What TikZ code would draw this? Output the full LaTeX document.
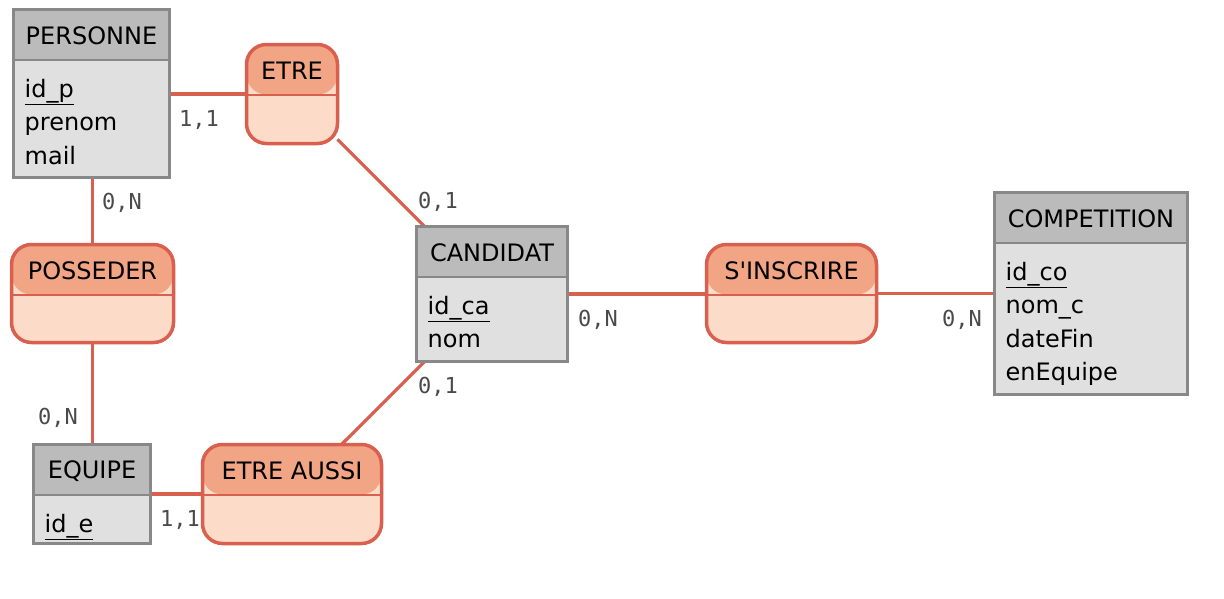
\documentclass[tikz,border=0pt]{standalone}
\usepackage{fontspec}
\setmainfont{DejaVu Sans}
\newfontfamily\cardfont{DejaVu Sans Mono}
\usetikzlibrary{backgrounds}

\definecolor{enthead}{HTML}{BBBBBB}
\definecolor{entbody}{HTML}{E0E0E0}
\definecolor{entline}{HTML}{888888}
\definecolor{relhead}{HTML}{F2A584}
\definecolor{relbody}{HTML}{FCDCC8}
\definecolor{relline}{HTML}{D9604F}
\definecolor{cardtext}{HTML}{4A4A4A}

\tikzset{
  box/.style={line width=3.5pt, inner sep=0pt, outer sep=0pt},
  entity/.style={box, draw=entline, fill=entbody,
    path picture={
      \fill[enthead] (path picture bounding box.north west) rectangle
        ([yshift=-50pt]path picture bounding box.north east);
      \draw[entline, line width=2pt] ([yshift=-50pt]path picture bounding box.north west)
        -- ([yshift=-50pt]path picture bounding box.north east);
    }},
  relation/.style={box, draw=relline, fill=relbody, rounded corners=20pt,
    path picture={
      \fill[relhead] (path picture bounding box.north west) rectangle
        ([yshift=-50pt]path picture bounding box.north east);
      \draw[relline, line width=2pt] ([yshift=-50pt]path picture bounding box.north west)
        -- ([yshift=-50pt]path picture bounding box.north east);
    }},
  title/.style={inner sep=0pt, font=\fontsize{24}{30}\selectfont},
  attrs/.style={inner sep=0pt, anchor=north west, align=left,
    font=\fontsize{24}{33.5}\selectfont},
  card/.style={inner sep=0pt, text=cardtext, font=\cardfont\fontsize{22}{26}\selectfont},
  link/.style={draw=relline, line width=3.2pt},
}

\begin{document}
\begin{tikzpicture}[x=1pt,y=-1pt]
\useasboundingbox (0,0) rectangle (1224,598);
% ---------- entites ----------
\node[entity, minimum width=156pt, minimum height=168pt] (personne) at (91.5,93.5) {};
\node[entity, minimum width=151pt, minimum height=135pt] (candidat) at (492,294) {};
\node[entity, minimum width=117pt, minimum height=99pt] (equipe) at (92,494) {};
\node[entity, minimum width=193pt, minimum height=202pt] (competition) at (1091,293.5) {};
% ---------- associations ----------
\node[relation, minimum width=91pt, minimum height=99pt] (etre) at (292,94) {};
\node[relation, minimum width=162pt, minimum height=98pt] (posseder) at (92.5,293.5) {};
\node[relation, minimum width=179pt, minimum height=99pt] (etreaussi) at (292,494) {};
\node[relation, minimum width=170pt, minimum height=98pt] (sinscrire) at (791.5,293.5) {};
% titres
\node[title] (personne-t) at ([yshift=-26.5pt]personne.north) {PERSONNE};
\node[title] (candidat-t) at ([yshift=-26.5pt]candidat.north) {CANDIDAT};
\node[title] (equipe-t) at ([yshift=-26.5pt]equipe.north) {EQUIPE};
\node[title] (competition-t) at ([yshift=-26.5pt]competition.north) {COMPETITION};
\node[title] (etre-t) at ([yshift=-26.5pt]etre.north) {ETRE};
\node[title] (posseder-t) at ([yshift=-26.5pt]posseder.north) {POSSEDER};
\node[title] (etreaussi-t) at ([yshift=-26.5pt]etreaussi.north) {ETRE AUSSI};
\node[title] (sinscrire-t) at ([yshift=-26.5pt]sinscrire.north) {S\textquotesingle INSCRIRE};
% attributs
\node[attrs] (personne-a) at ([xshift=11pt,yshift=-69.5pt]personne.north west)
  {\underline{id\_p}\\prenom\\mail};
\node[attrs] (candidat-a) at ([xshift=11pt,yshift=-69.5pt]candidat.north west)
  {\underline{id\_ca}\\nom};
\node[attrs] (equipe-a) at ([xshift=11pt,yshift=-69.5pt]equipe.north west)
  {\underline{id\_e}};
\node[attrs] (competition-a) at ([xshift=11pt,yshift=-69.5pt]competition.north west)
  {\underline{id\_co}\\nom\_c\\dateFin\\enEquipe};
% ---------- liens ----------
\begin{scope}[on background layer]
\fill[white] (0,0) rectangle (1224,598);
\draw[link] (personne.east |- etre) -- (etre);
\draw[link] (etre) -- (candidat);
\draw[link] (personne.south -| posseder) -- (posseder);
\draw[link] (posseder) -- (posseder |- equipe.north);
\draw[link] (equipe) -- (etreaussi);
\draw[link] (etreaussi) -- (candidat);
\draw[link] (candidat) -- (candidat -| sinscrire);
\draw[link] (sinscrire) -- (competition);
\end{scope}
% cardinalites
\node[card] (c-pers-etre) at (199,120) {1,1};
\node[card] (c-pers-poss) at (122,203) {0,N};
\node[card] (c-cand-etre) at (438,202) {0,1};
\node[card] (c-cand-aussi) at (438,387) {0,1};
\node[card] (c-equi-poss) at (58,418) {0,N};
\node[card] (c-equi-aussi) at (180,520) {1,1};
\node[card] (c-cand-insc) at (598,320) {0,N};
\node[card] (c-comp-insc) at (962,320) {0,N};
\end{tikzpicture}
\end{document}
